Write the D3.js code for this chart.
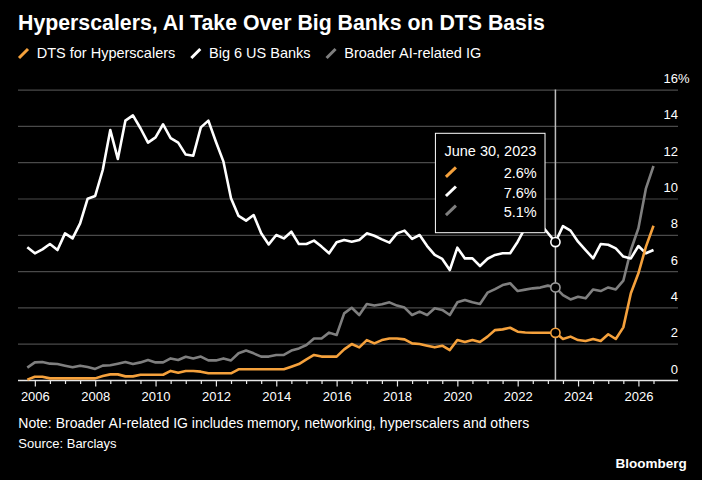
<!DOCTYPE html>
<html><head><meta charset="utf-8">
<script src="https://cdn.jsdelivr.net/npm/d3@7"></script>
<style>
html,body{margin:0;padding:0;background:#000;}
svg{display:block;font-family:"Liberation Sans",Arial,sans-serif;}
</style>
</head><body>
<svg id="c" width="702" height="480"></svg>
<script>
// ---------------- data ----------------
const titleText = "Hyperscalers, AI Take Over Big Banks on DTS Basis";
const seriesNames = ["DTS for Hyperscalers", "Big 6 US Banks", "Broader AI-related IG"];
const seriesColors = ["#f5a13c", "#ffffff", "#7f7f7f"];
const firstQuarter = 2005.75;   // decimal-year position of first quarterly observation
const quarterStep = 0.25;

const hyperscalers = [0.02,0.18,0.18,0.09,0.09,0.09,0.09,0.09,0.09,0.09,
  0.22,0.31,0.31,0.20,0.20,0.29,0.29,0.29,0.29,0.50,
  0.40,0.50,0.50,0.46,0.37,0.37,0.37,0.37,0.59,0.59,
  0.59,0.59,0.59,0.59,0.59,0.73,0.88,1.14,1.38,1.29,
  1.29,1.29,1.69,1.98,1.80,2.20,2.02,2.20,2.29,2.29,
  2.24,2.02,1.98,1.89,1.80,1.89,1.65,2.20,2.09,2.20,
  2.09,2.39,2.75,2.79,2.88,2.66,2.62,2.60,2.60,2.60,
  2.60,2.26,2.39,2.20,2.15,2.26,2.15,2.52,2.26,2.90,
  4.78,5.88,7.35,8.50];

const banks = [7.31,6.98,7.20,7.49,7.16,8.08,7.80,8.63,9.99,10.14,
  11.57,13.77,12.18,14.29,14.58,13.87,13.08,13.37,14.09,13.33,
  13.08,12.42,12.36,13.92,14.29,13.13,12.03,10.01,9.04,8.78,
  9.09,8.08,7.47,7.99,7.80,8.17,7.49,7.49,7.68,7.35,
  6.98,7.59,7.71,7.62,7.71,8.08,7.95,7.75,7.57,8.08,
  8.23,7.77,7.99,7.38,6.89,6.67,6.06,7.29,6.70,6.70,
  6.28,6.68,6.89,6.98,6.98,7.62,8.40,8.80,8.60,8.10,
  7.60,8.48,8.23,7.62,7.16,6.70,7.49,7.45,7.25,6.80,
  6.70,7.38,6.98,7.16];

const aiRelatedIG = [0.68,0.97,0.99,0.90,0.88,0.79,0.70,0.79,0.72,0.61,
  0.79,0.81,0.90,0.99,0.88,0.97,1.10,0.97,0.97,1.19,
  1.10,1.28,1.19,1.29,1.08,1.08,1.19,1.08,1.47,1.62,
  1.47,1.29,1.29,1.38,1.38,1.62,1.74,1.93,2.29,2.29,
  2.61,2.48,3.67,3.98,3.58,4.19,4.10,4.17,4.28,4.10,
  3.99,3.58,3.77,3.58,3.95,3.86,3.58,4.28,4.41,4.28,
  4.19,4.81,5.01,5.23,5.33,4.90,4.98,5.05,5.09,5.20,
  5.10,4.68,4.44,4.59,4.50,4.99,4.90,5.10,4.99,5.47,
  7.16,8.36,10.56,11.79];

const yTickValues = [0, 2, 4, 6, 8, 10, 12, 14, 16];
const xLabelYears = [2006, 2008, 2010, 2012, 2014, 2016, 2018, 2020, 2022, 2024, 2026];
const hoverIndex = 70;
const hoverLabel = "June 30, 2023";
const noteText = "Note: Broader AI-related IG includes memory, networking, hyperscalers and others";
const sourceText = "Source: Barclays";
const brandText = "Bloomberg";

// ---------------- layout ----------------
const W = 702, H = 480;
const gridLeft = 18, gridRight = 678, plotTop = 89.6, plotBottom = 380;
const seriesValues = [hyperscalers, banks, aiRelatedIG];
const n = banks.length;
const xPos = i => firstQuarter + i * quarterStep;

const svg = d3.select("#c");
svg.append("rect").attr("width", W).attr("height", H).attr("fill", "#000");

const x = d3.scaleLinear().domain([xPos(0), xPos(n - 1)]).range([27.3, 653.5]);
const y = d3.scaleLinear().domain([0, 16]).range([plotBottom, plotTop]);

// title
const title = svg.append("text").attr("x", 18).attr("y", 30)
  .attr("fill", "#fff").attr("font-weight", "bold").attr("font-size", 18.5)
  .text(titleText);
(function fit(t, target) {
  const w = t.node().getComputedTextLength();
  if (w > 0) t.attr("font-size", 18.5 * target / w);
})(title, 527);

// legend
let lx = 19;
seriesNames.forEach((name, i) => {
  svg.append("line").attr("x1", lx).attr("y1", 58).attr("x2", lx + 9).attr("y2", 49)
    .attr("stroke", seriesColors[i]).attr("stroke-width", 3);
  const t = svg.append("text").attr("x", lx + 17.7).attr("y", 58.3)
    .attr("fill", "#fff").attr("font-size", 14.5).text(name);
  lx = lx + 17.7 + t.node().getComputedTextLength() + 16;
});

// y grid + labels
const yAxis = d3.axisRight(y).tickValues(yTickValues).tickSize(-(gridRight - gridLeft))
  .tickFormat((d, i) => i === yTickValues.length - 1 ? d + "%" : d);
const gy = svg.append("g").attr("transform", `translate(${gridRight},0)`).call(yAxis);
gy.select(".domain").remove();
gy.selectAll(".tick line").attr("stroke", d => d === 0 ? "#e6e6e6" : "#4a4a4a")
  .attr("stroke-width", d => d === 0 ? 1.5 : 1.2);
gy.selectAll(".tick text").attr("x", 0).attr("dy", null).attr("y", -7)
  .attr("text-anchor", "end").attr("fill", "#fff")
  .attr("font-size", 13).attr("font-family", '"Liberation Sans",Arial,sans-serif');
gy.selectAll(".tick").filter(d => d === 16).select("text").attr("text-anchor", "start").attr("x", -14.5);

// x axis
const halfYears = d3.range(2006, 2026.51, 0.5);
const xAxis = d3.axisBottom(x).tickValues(halfYears).tickSize(4).tickPadding(7)
  .tickFormat(d => xLabelYears.includes(d) ? String(d) : "");
const gx = svg.append("g").attr("transform", `translate(0,${plotBottom})`).call(xAxis);
gx.select(".domain").remove();
gx.selectAll(".tick line").attr("stroke", "#e6e6e6").attr("stroke-width", 1.2)
  .attr("y2", d => xLabelYears.includes(d) ? 6.5 : 4);
gx.selectAll(".tick text").attr("fill", "#fff").attr("font-size", 13)
  .attr("font-family", '"Liberation Sans",Arial,sans-serif').attr("dy", null).attr("y", 20.5);

// lines
const line = d3.line().x((d, i) => x(xPos(i))).y(d => y(d)).curve(d3.curveLinear);
[2, 1, 0].forEach(s => {
  svg.append("path").datum(seriesValues[s]).attr("d", line)
    .attr("fill", "none").attr("stroke", seriesColors[s]).attr("stroke-width", 2.6)
    .attr("stroke-linejoin", "round").attr("stroke-linecap", "butt");
});

// hover line
const hx = x(xPos(hoverIndex));
svg.append("line").attr("x1", hx).attr("x2", hx).attr("y1", plotTop).attr("y2", plotBottom)
  .attr("stroke", "#bdbdbd").attr("stroke-width", 1.5);

// tooltip
const boxW = 109.6, boxH = 99.4, boxTop = 133.3;
const boxRight = hx - 10.4, boxLeft = boxRight - boxW;
const tip = svg.append("g");
tip.append("rect").attr("x", boxLeft).attr("y", boxTop).attr("width", boxW).attr("height", boxH)
  .attr("fill", "#000").attr("stroke", "#fff").attr("stroke-width", 1);
tip.append("text").attr("x", boxLeft + 9).attr("y", boxTop + 22.7).attr("fill", "#fff")
  .attr("font-size", 14.5).text(hoverLabel);
seriesValues.forEach((vals, i) => {
  const by = boxTop + 45 + i * 19.2;
  tip.append("line").attr("x1", boxLeft + 10.5).attr("y1", by - 1.5)
    .attr("x2", boxLeft + 20.5).attr("y2", by - 11)
    .attr("stroke", seriesColors[i]).attr("stroke-width", 3);
  tip.append("text").attr("x", boxRight - 8.3).attr("y", by).attr("text-anchor", "end")
    .attr("fill", "#fff").attr("font-size", 14.5).text(d3.format(".1f")(vals[hoverIndex]) + "%");
});

// hover markers
seriesValues.forEach((vals, i) => {
  svg.append("circle").attr("cx", hx).attr("cy", y(vals[hoverIndex])).attr("r", 4.6)
    .attr("fill", "#000").attr("stroke", seriesColors[i] === "#7f7f7f" ? "#9a9a9a" : seriesColors[i])
    .attr("stroke-width", 1.6);
});

// footer
const note = svg.append("text").attr("x", 18.3).attr("y", 428).attr("fill", "#fff")
  .attr("font-size", 13).text(noteText);
(function fit(t, target) {
  const w = t.node().getComputedTextLength();
  if (w > 0) t.attr("font-size", Math.min(14, 13 * target / w));
})(note, 519);
svg.append("text").attr("x", 18.3).attr("y", 448).attr("fill", "#fff")
  .attr("font-size", 13).text(sourceText);
svg.append("text").attr("x", 686.7).attr("y", 468).attr("text-anchor", "end")
  .attr("fill", "#fff").attr("font-weight", "bold").attr("font-size", 13.5).text(brandText);
</script>
</body></html>
